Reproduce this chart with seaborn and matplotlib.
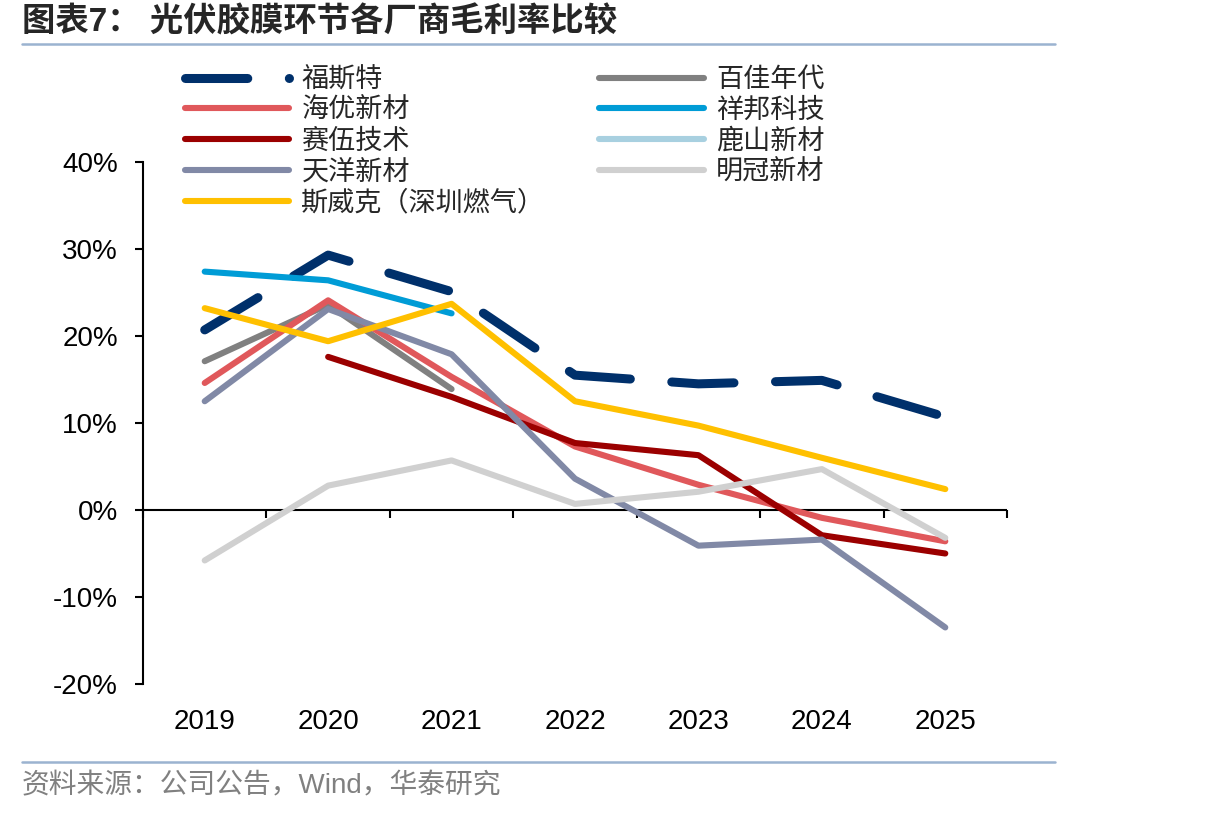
import numpy as np
import pandas as pd
import matplotlib
matplotlib.use("Agg")
import matplotlib.pyplot as plt
from matplotlib.lines import Line2D
from matplotlib.ticker import FuncFormatter
import seaborn as sns

nan = np.nan
years = ["2019", "2020", "2021", "2022", "2023", "2024", "2025"]
series_names = ["福斯特", "百佳年代", "海优新材", "祥邦科技", "赛伍技术",
                "鹿山新材", "天洋新材", "明冠新材", "斯威克（深圳燃气）"]
fst = [20.7, 29.3, 25.1, 15.5, 14.5, 14.9, 10.7]
bjnd = [17.1, 23.6, 13.9, nan, nan, nan, nan]
hyxc = [14.6, 24.1, 15.3, 7.3, 2.9, -0.9, -3.6]
xbkj = [27.4, 26.4, 22.6, nan, nan, nan, nan]
swjs = [nan, 17.6, 13.0, 7.7, 6.3, -2.9, -5.0]
lsxc = [nan, nan, nan, nan, nan, nan, nan]
tyxc = [12.5, 23.1, 17.9, 3.6, -4.1, -3.4, -13.5]
mgxc = [-5.8, 2.8, 5.7, 0.7, 2.1, 4.7, -3.2]
swk = [23.2, 19.4, 23.7, 12.5, 9.7, 6.0, 2.4]
yticks = [-20, -10, 0, 10, 20, 30, 40]

values = [fst, bjnd, hyxc, xbkj, swjs, lsxc, tyxc, mgxc, swk]
colors = ["#00306B", "#808080", "#E0585B", "#009CD6", "#9B0000",
          "#A8D0E0", "#8189A6", "#D0D0D0", "#FFC000"]

sns.set_style("white")
plt.rcParams["font.family"] = ["Liberation Sans", "Noto Sans CJK SC", "DejaVu Sans"]

fig = plt.figure(figsize=(12.06, 8.17), dpi=100)
ax = fig.add_axes([143 / 1206, 1 - 684 / 817, (1007 - 143) / 1206, (684 - 162) / 817])

xpos = np.arange(len(years))
handles = {}
for name, vals, col in zip(series_names, values, colors):
    df = pd.DataFrame({"x": xpos, "y": vals}).dropna()
    if name == "福斯特":
        lw = 6.5
        kw = dict(linestyle=(0, (6.9, 4.6)), dash_capstyle="round", solid_capstyle="round")
    else:
        lw = 4.4
        kw = dict(solid_capstyle="round", dash_capstyle="round")
    if len(df):
        sns.lineplot(data=df, x="x", y="y", ax=ax, color=col, linewidth=lw,
                     estimator=None, sort=False, legend=False, **kw)
        h = ax.lines[-1]
        h.set_solid_joinstyle("round")
    handles[name] = Line2D([], [], color=col, linewidth=lw, **kw)

ax.axhline(0, color="black", linewidth=1.5, zorder=0.5)

ax.set_xlim(-0.5, len(years) - 0.5)
ax.set_ylim(-20, 40)
ax.set_xticks(xpos)
ax.set_xticklabels(years)
ax.set_yticks(yticks)
ax.yaxis.set_major_formatter(FuncFormatter(lambda v, p: f"{v:.0f}%"))
ax.set_xlabel("")
ax.set_ylabel("")
for s in ["top", "right", "bottom"]:
    ax.spines[s].set_visible(False)
ax.spines["left"].set_color("black")
ax.spines["left"].set_linewidth(1.5)
ax.tick_params(axis="x", length=0, pad=18, labelsize=20, colors="black")
ax.tick_params(axis="y", length=6, width=1.5, direction="out", pad=12,
               labelsize=20, colors="black", left=True)

secax = ax.secondary_xaxis(1 / 3)
secax.set_xticks(np.arange(-0.5, len(years), 1.0))
secax.set_xticklabels([])
secax.tick_params(axis="x", length=6, width=1.5, direction="out", colors="black")
for s in secax.spines.values():
    s.set_visible(False)

order = ["福斯特", "海优新材", "赛伍技术", "天洋新材", "斯威克（深圳燃气）",
         "百佳年代", "祥邦科技", "鹿山新材", "明冠新材"]
fig.legend([handles[n] for n in order], order, ncol=2, loc="upper left",
           bbox_to_anchor=(185 / 1206, 1 - 67 / 817), frameon=False,
           fontsize=19.5, handlelength=3.85, handletextpad=0.45,
           columnspacing=1.99, labelspacing=0.18, borderpad=0, borderaxespad=0)

fig.text(22 / 1206, 1 - 22 / 817, "图表7： 光伏胶膜环节各厂商毛利率比较",
         fontsize=24, fontweight="bold", va="center", ha="left")
fig.add_artist(Line2D([22 / 1206, 1055 / 1206], [1 - 44 / 817, 1 - 44 / 817],
                      color="#9BB3D0", linewidth=1.8))
fig.add_artist(Line2D([22 / 1206, 1055 / 1206], [1 - 762 / 817, 1 - 762 / 817],
                      color="#9BB3D0", linewidth=1.8))
fig.text(22 / 1206, 1 - 786 / 817, "资料来源：公司公告，Wind，华泰研究",
         fontsize=20, color="#808080", va="center", ha="left")

fig.savefig("out.png", dpi=100)
